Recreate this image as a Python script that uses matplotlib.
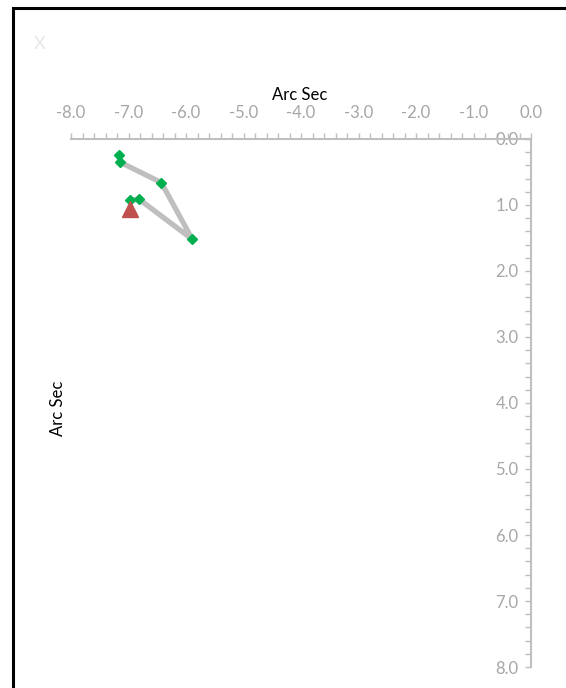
import matplotlib.pyplot as plt
from matplotlib.patches import Rectangle
from matplotlib.ticker import MultipleLocator

plt.rcParams['font.family'] = ['Lato', 'DejaVu Sans']
plt.rcParams['axes.unicode_minus'] = False

# path of the star (arc seconds)
path_x = [-7.17, -7.15, -6.43, -5.89, -6.82, -6.97]
path_y = [0.24, 0.35, 0.66, 1.52, 0.91, 0.93]

# final position
end_x = [-6.98]
end_y = [1.06]

W, H = 566, 688
fig = plt.figure(figsize=(W / 100, H / 100), dpi=100)

# outer chart border
fig.patches.append(Rectangle((13 / W, -0.1), 1.2, 1 - 8 / H + 0.1,
                             transform=fig.transFigure, fill=False,
                             edgecolor='black', linewidth=2.2))

ax = fig.add_axes([71 / W, 1 - 667 / H, (531 - 71) / W, (667 - 139) / H])

ax.plot(path_x, path_y, color='#BFBFBF', linewidth=3.8, zorder=2)
ax.plot(path_x, path_y, linestyle='none', marker='D', markersize=5,
        color='#00B050', zorder=3)
ax.plot(end_x, end_y, linestyle='none', marker='^', markersize=11,
        color='#C0504D', zorder=4)

ax.set_xlim(-8, 0)
ax.set_ylim(8, 0)

ax.xaxis.set_major_locator(MultipleLocator(1))
ax.xaxis.set_minor_locator(MultipleLocator(0.2))
ax.yaxis.set_major_locator(MultipleLocator(1))
ax.yaxis.set_minor_locator(MultipleLocator(0.2))
ax.xaxis.set_major_formatter('{x:.1f}')
ax.yaxis.set_major_formatter('{x:.1f}')

for s in ['left', 'bottom']:
    ax.spines[s].set_visible(False)
for s in ['top', 'right']:
    ax.spines[s].set_color('#BFBFBF')
    ax.spines[s].set_linewidth(1.5)

ax.tick_params(axis='x', which='both', top=True, bottom=False,
               labeltop=True, labelbottom=False, direction='out',
               length=4, width=1, color='#BFBFBF')
ax.tick_params(axis='x', which='major', pad=9, labelsize=12,
               labelcolor='#A6A6A6')
ax.tick_params(axis='y', which='both', right=True, left=False,
               labelright=True, labelleft=False, direction='in',
               length=4, width=1, color='#BFBFBF')
ax.tick_params(axis='y', which='major', pad=-9, labelsize=12,
               labelcolor='#A6A6A6')
for lab in ax.get_yticklabels():
    lab.set_horizontalalignment('right')

ax.patch.set_alpha(0)

fig.text(300 / W, 1 - 95 / H, 'Arc Sec', ha='center', va='center',
         fontsize=12, color='black')
fig.text(58 / W, 1 - 408 / H, 'Arc Sec', ha='center', va='center',
         fontsize=12, color='black', rotation=90)
fig.text(40 / W, 1 - 44 / H, 'X', ha='center', va='center',
         fontsize=13, color='#E6E6E6')

fig.savefig('out.png', dpi=100)
